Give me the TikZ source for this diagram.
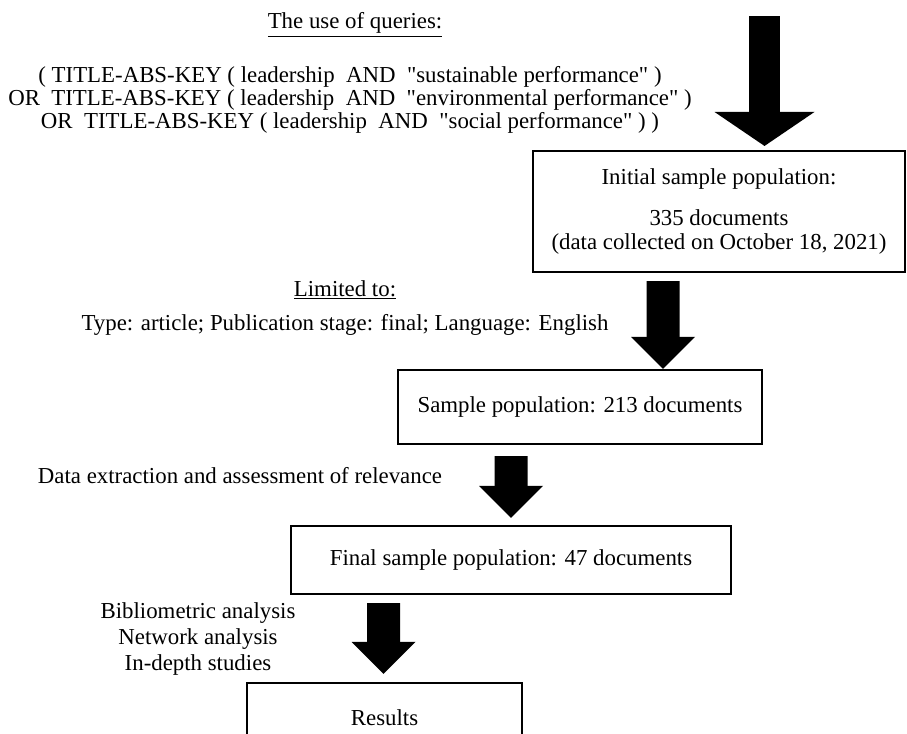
\documentclass[tikz,border=0pt]{standalone}
\usepackage{fontspec}
\setmainfont{Liberation Serif}[Ligatures=TeXOff]
\usetikzlibrary{positioning,arrows.meta}

\begin{document}
\begin{tikzpicture}[
  font=\fontsize{13}{15}\selectfont,
  stage/.style={rectangle,draw=black,line width=1.2pt,align=center,inner sep=0pt},
  note/.style={align=center,inner sep=0pt},
  bigarrow/.style={line width=0.66cm,-{Triangle[length=0.64cm,width=1.28cm,line width=0pt]}}
]
\useasboundingbox (0,0) rectangle (18.14,-14.66);
\clip (0,0) rectangle (18.14,-14.66);
% query text
\node[note] (qtitle) at (7.1,-0.5) {\underline{The use of queries:}};
\node[note,font=\fontsize{13}{11.4}\selectfont] (query) at (7.0,-2.0)
  {( TITLE-ABS-KEY ( leadership~ AND~ "sustainable performance" )\\
   OR~ TITLE-ABS-KEY ( leadership~ AND~ "environmental performance" )\\
   OR~ TITLE-ABS-KEY ( leadership~ AND~ "social performance" ) )};
\coordinate (start) at (15.29,-0.32);
% stages
\node[stage,font=\fontsize{13}{13.6}\selectfont,minimum width=7.44cm,minimum height=2.42cm] (initial) at (14.38,-4.23)
  {Initial sample population:\\[0.34cm]335 documents\\(data collected on October 18, 2021)};
\node[note] (limit) at (6.9,-5.8) {\underline{Limited to:}};
\node[note] (type) at (6.9,-6.5) {Type: article; Publication stage: final; Language: English};
\node[stage,minimum width=7.28cm,minimum height=1.48cm] (sample) at (11.6,-8.14) {Sample population: 213 documents};
\node[note] (extract) at (4.8,-9.52) {Data extraction and assessment of relevance};
\node[stage,minimum width=8.8cm,minimum height=1.36cm] (final) at (10.22,-11.2) {Final sample population: 47 documents};
\node[note] (methods) at (3.96,-12.78) {Bibliometric analysis\\Network analysis\\In-depth studies};
\node[stage,minimum width=5.5cm,minimum height=1.4cm] (results) at (7.69,-14.36) {Results};
% block arrows
\draw[bigarrow,line width=0.62cm,-{Triangle[length=0.68cm,width=2.0cm,line width=0pt]}]
  (start) -- ([yshift=0.08cm]initial.north -| start);
\draw[bigarrow] ([xshift=-1.12cm,yshift=-0.16cm]initial.south) -- ([xshift=1.66cm]sample.north);
\draw[bigarrow] ([xshift=-1.38cm,yshift=-0.22cm]sample.south) -- ([yshift=0.14cm]final.north);
\draw[bigarrow] ([xshift=-2.55cm,yshift=-0.16cm]final.south) -- ([xshift=-0.02cm,yshift=0.16cm]results.north);
\end{tikzpicture}
\end{document}
